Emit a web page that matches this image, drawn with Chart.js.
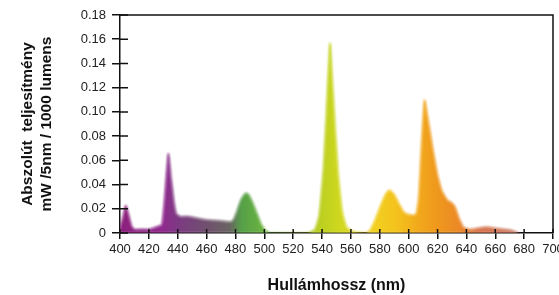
<!DOCTYPE html>
<html>
<head>
<meta charset="utf-8">
<script src="https://cdn.jsdelivr.net/npm/chart.js@4.4.1/dist/chart.umd.min.js"></script>
<style>
  html, body { margin: 0; padding: 0; background: #fff; overflow: hidden; }
  #wrap { width: 575px; height: 295px; position: relative; }
</style>
</head>
<body>
<div id="wrap"><canvas id="spd"></canvas></div>
<script>
// Spectral power distribution
const wavelengths = [400, 402, 404, 406, 408, 410, 415, 420, 425, 429, 431, 433.5, 435.5, 437.5,
  439, 442, 448, 459, 470, 477, 479, 481, 484, 487, 489, 492, 495, 498, 501, 504, 515, 530, 535,
  538, 541, 543, 545.5, 547.5, 549.5, 551.5, 554, 557, 562, 570, 573, 576, 579, 582, 585, 587,
  590, 593, 597, 601, 605, 607, 609, 611, 614, 617, 620, 623, 627, 630, 632, 635, 638, 642, 648,
  654, 660, 667, 672, 676];
const power = [0.004, 0.013, 0.023, 0.015, 0.006, 0.003, 0.003, 0.003, 0.005, 0.007, 0.03, 0.066,
  0.045, 0.025, 0.016, 0.0135, 0.0135, 0.011, 0.010, 0.0093, 0.012, 0.018, 0.028, 0.033, 0.032,
  0.025, 0.016, 0.007, 0.002, 0.0, 0.0, 0.0, 0.003, 0.015, 0.055, 0.10, 0.157, 0.12, 0.08, 0.045,
  0.018, 0.005, 0.001, 0.0, 0.002, 0.009, 0.018, 0.027, 0.034, 0.0355, 0.032, 0.025, 0.017, 0.015,
  0.015, 0.03, 0.075, 0.11, 0.09, 0.068, 0.048, 0.035, 0.027, 0.025, 0.022, 0.012, 0.005, 0.003,
  0.004, 0.005, 0.004, 0.003, 0.002, 0.0];

// colour of the fill along the spectrum
const colorStops = [
  [400, '#8c1f7c'], [430, '#8f2a8e'], [440, '#7d3a82'], [460, '#70506f'], [476, '#6a6563'],
  [484, '#55a048'], [497, '#68b042'], [535, '#b6cc22'], [552, '#cfd81e'], [572, '#f2d322'],
  [592, '#f4c21c'], [606, '#f2aa1c'], [618, '#ef9a1c'], [634, '#ec8a26'], [648, '#d8744c'],
  [680, '#c87a66']
];

const xTicks = [400, 420, 440, 460, 480, 500, 520, 540, 560, 580, 600, 620, 640, 660, 680, 700];
const yTicks = [0, 0.02, 0.04, 0.06, 0.08, 0.10, 0.12, 0.14, 0.16, 0.18];

const FONT = "'Liberation Sans', Arial, sans-serif";

function spectrumFill(context) {
    const chart = context.chart;
    if (!chart.chartArea) return '#888';
    const xs = chart.scales.x;
    const x0 = xs.getPixelForValue(400);
    const x1 = xs.getPixelForValue(700);
    const g = chart.ctx.createLinearGradient(x0, 0, x1, 0);
    colorStops.forEach(([nm, c]) => g.addColorStop((nm - 400) / 300, c));
    return g;
}

// soft edges like the scanned original
const softPlugin = {
    id: 'soft',
    beforeDatasetsDraw(chart) {
        chart.ctx.save();
        chart.ctx.filter = 'blur(1px)';
    },
    afterDatasetsDraw(chart) {
        chart.ctx.restore();
    }
};

// frame on top/right plus tick marks that cross the axes
const framePlugin = {
    id: 'frame',
    afterDraw(chart) {
        const { ctx, chartArea: a, scales } = chart;
        ctx.save();
        ctx.strokeStyle = '#111';
        ctx.lineWidth = 1.5;
        ctx.beginPath();
        ctx.moveTo(a.left, a.top);
        ctx.lineTo(a.right, a.top);
        ctx.lineTo(a.right, a.bottom);
        ctx.stroke();
        ctx.beginPath();
        scales.y.ticks.forEach((t, i) => {
            const py = scales.y.getPixelForTick(i);
            ctx.moveTo(a.left, py);
            ctx.lineTo(a.left + 8, py);
        });
        scales.x.ticks.forEach((t, i) => {
            const px = scales.x.getPixelForTick(i);
            ctx.moveTo(px, a.bottom);
            ctx.lineTo(px, a.bottom - 4);
        });
        ctx.stroke();
        ctx.restore();
    }
};

new Chart(document.getElementById('spd'), {
    type: 'line',
    data: {
        datasets: [{
            data: wavelengths.map((w, i) => ({ x: w, y: power[i] })),
            fill: 'origin',
            backgroundColor: spectrumFill,
            borderColor: spectrumFill,
            borderWidth: 1,
            pointRadius: 0,
            tension: 0.15
        }]
    },
    options: {
        responsive: true,
        maintainAspectRatio: false,
        animation: false,
        layout: { padding: { top: 15, right: 22, left: 0, bottom: 0 } },
        plugins: { legend: { display: false }, tooltip: { enabled: false } },
        scales: {
            x: {
                type: 'linear',
                min: 400,
                max: 700,
                afterBuildTicks: (s) => { s.ticks = xTicks.map(v => ({ value: v })); },
                afterFit: (s) => { s.height = 62; },
                border: { color: '#111', width: 1.5 },
                grid: { drawOnChartArea: false, tickLength: 6, color: '#111', lineWidth: 1.5 },
                ticks: { color: '#222', font: { family: FONT, size: 13 }, padding: 3, maxRotation: 0 },
                title: {
                    display: true,
                    text: 'Hullámhossz (nm)',
                    color: '#111',
                    font: { family: FONT, size: 16, weight: 'bold' },
                    padding: { top: 4, bottom: 0 }
                }
            },
            y: {
                min: 0,
                max: 0.18,
                afterBuildTicks: (s) => { s.ticks = yTicks.map(v => ({ value: v })); },
                afterFit: (s) => { s.width = 120; },
                border: { color: '#111', width: 1.5 },
                grid: { drawOnChartArea: false, tickLength: 8, color: '#111', lineWidth: 1.5 },
                ticks: {
                    color: '#222',
                    font: { family: FONT, size: 13 },
                    padding: 6,
                    callback: (v) => v === 0 ? '0' : v.toFixed(2)
                },
                title: {
                    display: true,
                    text: ['Abszolút  teljesítmény', 'mW /5nm / 1000 lumens'],
                    color: '#111',
                    font: { family: FONT, size: 15.5, weight: 'bold', lineHeight: 1.18 },
                    padding: { top: 19 }
                }
            }
        }
    },
    plugins: [softPlugin, framePlugin]
});
</script>
</body>
</html>
